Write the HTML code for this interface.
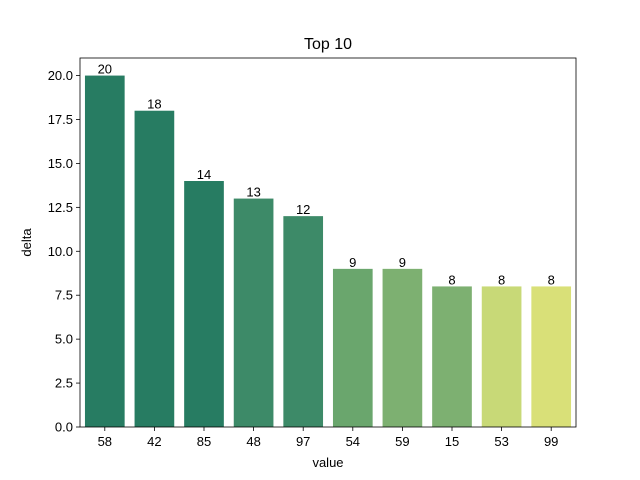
<!DOCTYPE html>
<html><head><meta charset="utf-8"><style>
body{margin:0;background:#fff}
svg{display:block;font-family:"Liberation Sans","DejaVu Sans",sans-serif}
</style></head><body>
<svg id="c" width="640" height="480"></svg>
<script>
const categories=["58","42","85","48","97","54","59","15","53","99"];
const values=[20,18,14,13,12,9,9,8,8,8];
const colors=["#277c62","#277c62","#277c62","#3d8a68","#3d8a68","#6aa66d","#7db071","#7db071","#c8d977","#d9e078"];
const yTicks=[0,2.5,5,7.5,10,12.5,15,17.5,20];
const yTickLabels=["0.0","2.5","5.0","7.5","10.0","12.5","15.0","17.5","20.0"];
const NS="http://www.w3.org/2000/svg",svg=document.getElementById("c");
const L=80,R=576,T=58,B=427,yMax=21;
const y=v=>B-(v/yMax)*(B-T);
const step=(R-L)/categories.length;
const x=i=>L+step*(i+0.5);
function mk(t,a,txt){const e=document.createElementNS(NS,t);for(const k in a)e.setAttribute(k,a[k]);if(txt!=null)e.textContent=txt;svg.appendChild(e);return e;}
values.forEach((v,i)=>{
 const r=mk("rect",{x:x(i)-step*0.4,y:y(v),width:step*0.8,height:B-y(v),fill:colors[i]});
 
 
 const t=mk("text",{x:x(i),y:y(v)-2,"text-anchor":"middle","font-size":13,fill:"#000"},String(v));
 
 
 const tk=mk("line",{x1:x(i),x2:x(i),y1:B,y2:B+4,stroke:"#000","stroke-width":0.8});
 
 
 const tl=mk("text",{x:x(i),y:B+19,"text-anchor":"middle","font-size":13},categories[i]);
 
 
});
yTicks.forEach((v,i)=>{
 const tk=mk("line",{x1:L-4,x2:L,y1:y(v),y2:y(v),stroke:"#000","stroke-width":0.8});
 
 
 const tl=mk("text",{x:L-7,y:y(v)+4.5,"text-anchor":"end","font-size":13},yTickLabels[i]);
 
 
});
const fr=mk("rect",{x:L,y:T,width:R-L,height:B-T,fill:"none",stroke:"#000","stroke-width":0.8});


const ti=mk("text",{x:(L+R)/2,y:49,"text-anchor":"middle","font-size":16},"Top 10");


const xl=mk("text",{x:(L+R)/2,y:467,"text-anchor":"middle","font-size":13},"value");


const yl=mk("text",{x:31,y:(T+B)/2,"text-anchor":"middle","font-size":13,transform:"rotate(-90 31 "+((T+B)/2)+")"},"delta");


</script>
</body></html>
